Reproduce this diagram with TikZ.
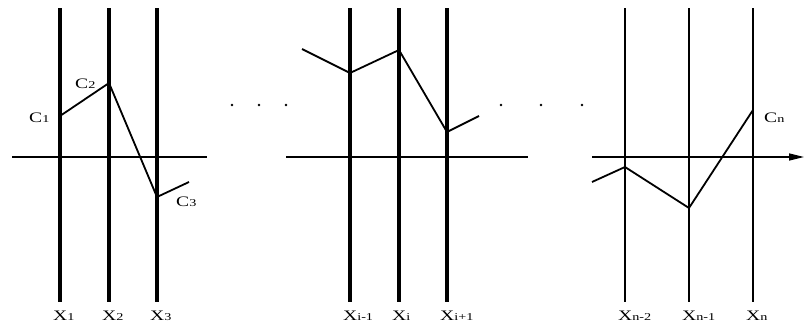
\documentclass[tikz,border=0pt]{standalone}
\usepackage{fontspec}
\setmainfont{Liberation Serif}
\usetikzlibrary{arrows.meta}
\newcommand{\lab}[2]{\scalebox{1.35}[1]{#1{\fontsize{10.5}{11}\selectfont #2}}}
\tikzset{
  vline/.style={line width=#1},
  axis/.style={line width=1.4pt},
  curve/.style={line width=1.8pt, line join=miter},
  xlab/.style={inner sep=0pt, anchor=base west, font=\fontsize{14.5}{15}\selectfont},
  clab/.style={inner sep=0pt, anchor=base west, font=\fontsize{14.5}{15}\selectfont},
  dotmark/.style={fill=black, draw=none}
}
\begin{document}
\begin{tikzpicture}[x=1pt, y=-1pt]
\useasboundingbox (0,0) rectangle (804,324);
% group 1
\foreach \n/\xx/\w in {a1/60/3.5pt, a2/109/3.5pt, a3/157/4.2pt}{
  \coordinate (\n t) at (\xx,8);
  \coordinate (\n b) at (\xx,302);
  \draw[vline=\w] (\n t) -- (\n b);
}
\coordinate (ax1s) at (12,157); \coordinate (ax1e) at (207,157);
\draw[axis] (ax1s) -- (ax1e);
\coordinate (c1) at (60,116); \coordinate (c2) at (109,83);
\coordinate (c3) at (157,197); \coordinate (c3e) at (189,182);
\draw[curve] (c1) -- (c2) -- (c3) -- (c3e);
\node[clab] (lc1) at (29,122) {\lab{C}{1}};
\node[clab] (lc2) at (75,88) {\lab{C}{2}};
\node[clab] (lc3) at (176,206) {\lab{C}{3}};
\node[xlab] (lx1) at (53,320) {\lab{X}{1}};
\node[xlab] (lx2) at (102,320) {\lab{X}{2}};
\node[xlab] (lx3) at (150,320) {\lab{X}{3}};
% dots
\foreach \n/\xx in {d1/232, d2/259, d3/286, d4/501, d5/541, d6/582}{
  \fill[dotmark] (\xx,105) circle (1.3pt) coordinate (\n);
}
% group 2
\foreach \n/\xx in {b1/350, b2/399, b3/447}{
  \coordinate (\n t) at (\xx,8);
  \coordinate (\n b) at (\xx,302);
  \draw[vline=3.2pt] (\n t) -- (\n b);
}
\coordinate (ax2s) at (286,157); \coordinate (ax2e) at (528,157);
\draw[axis] (ax2s) -- (ax2e);
\coordinate (p0) at (302,49); \coordinate (p1) at (350,73);
\coordinate (p2) at (399,50); \coordinate (p3) at (447,132);
\coordinate (p4) at (479,116);
\draw[curve] (p0) -- (p1) -- (p2) -- (p3) -- (p4);
\node[xlab] (lxi1) at (343,320) {\lab{X}{i-1}};
\node[xlab] (lxi) at (392,320) {\lab{X}{i}};
\node[xlab] (lxi2) at (440,320) {\lab{X}{i+1}};
% group 3
\foreach \n/\xx in {e1/625, e2/689, e3/753}{
  \coordinate (\n t) at (\xx,8);
  \coordinate (\n b) at (\xx,302);
  \draw[vline=2pt] (\n t) -- (\n b);
}
\coordinate (ax3s) at (592,157); \coordinate (ax3e) at (804,157);
\draw[axis, -{Triangle[length=15pt,width=7pt]}] (ax3s) -- (ax3e);
\coordinate (q0) at (592,182); \coordinate (q1) at (625,167);
\coordinate (q2) at (689,208); \coordinate (q3) at (753,110);
\draw[curve] (q0) -- (q1) -- (q2) -- (q3);
\node[clab] (lcn) at (764,122) {\lab{C}{n}};
\node[xlab] (lxn2) at (618,320) {\lab{X}{n-2}};
\node[xlab] (lxn1) at (682,320) {\lab{X}{n-1}};
\node[xlab] (lxn) at (746,320) {\lab{X}{n}};
\end{tikzpicture}
\end{document}
